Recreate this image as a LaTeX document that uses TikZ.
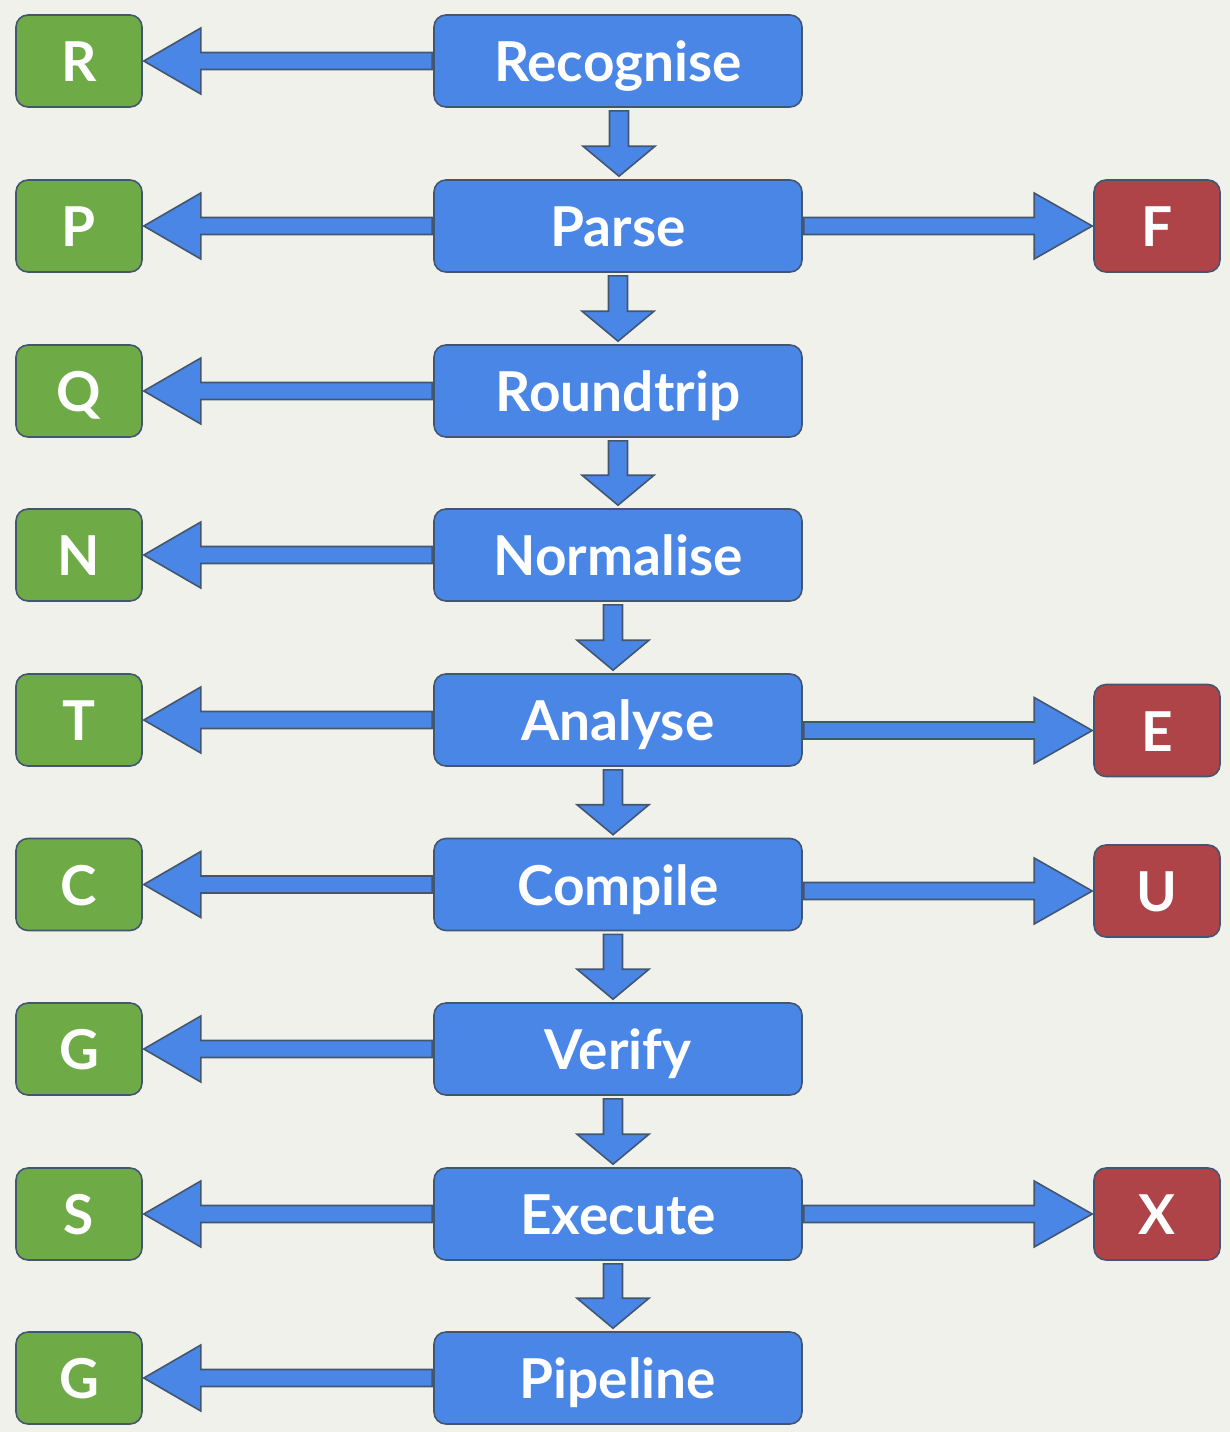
\documentclass[tikz,border=0pt]{standalone}
\usepackage{fontspec}
\setmainfont{Lato}
\usetikzlibrary{calc}
\definecolor{bg}{HTML}{F1F1EC}
\definecolor{bluebox}{HTML}{4A86E6}
\definecolor{greenbox}{HTML}{6EAB46}
\definecolor{redbox}{HTML}{AE4447}
\definecolor{edge}{HTML}{435670}
\tikzset{
  box/.style={draw=edge,line width=1.6pt,rounded corners=12pt,text=white,
    font=\bfseries\fontsize{55}{60}\selectfont,inner sep=0pt,minimum height=92pt,
    text height=41pt,text depth=0pt},
  stage/.style={box,fill=bluebox,minimum width=368pt},
  okbox/.style={box,fill=greenbox,minimum width=126pt},
  errbox/.style={box,fill=redbox,minimum width=126pt},
  fat/.style={draw=edge,fill=bluebox,line width=1.6pt,line join=miter}
}
\newcommand\LeftFat[2]{\draw[fat] let \p1=(#1.west), \p2=(#2.east) in
  (\x1-1pt,\y2+8.5pt) -- (\x2+58pt,\y2+8.5pt) -- (\x2+58pt,\y2+33pt) -- (\x2+1pt,\y2)
  -- (\x2+58pt,\y2-33pt) -- (\x2+58pt,\y2-8.5pt) -- (\x1-1pt,\y2-8.5pt) -- cycle;}
\newcommand\RightFat[2]{\draw[fat] let \p1=(#1.east), \p2=(#2.west) in
  (\x1+1pt,\y2+8.5pt) -- (\x2-59pt,\y2+8.5pt) -- (\x2-59pt,\y2+33pt) -- (\x2-1pt,\y2)
  -- (\x2-59pt,\y2-33pt) -- (\x2-59pt,\y2-8.5pt) -- (\x1+1pt,\y2-8.5pt) -- cycle;}
\newcommand\DownFat[3]{\draw[fat] let \p1=(#1.south), \p2=(#2.north) in
  (#3pt-9.5pt,\y1-3pt) -- (#3pt-9.5pt,\y2+33pt) -- (#3pt-36pt,\y2+33pt) -- (#3pt,\y2+3pt)
  -- (#3pt+36pt,\y2+33pt) -- (#3pt+9.5pt,\y2+33pt) -- (#3pt+9.5pt,\y1-3pt) -- cycle;}
\begin{document}
\begin{tikzpicture}[x=1pt,y=-1pt]
\fill[bg] (0,0) rectangle (1230,1432);
\useasboundingbox (0,0) rectangle (1230,1432);
% stages
\node[stage] (rec) at (618,61) {Recognise};
\node[stage] (par) at (618,226) {Parse};
\node[stage] (rou) at (618,391) {Roundtrip};
\node[stage] (nor) at (618,555) {Normalise};
\node[stage] (ana) at (618,720) {Analyse};
\node[stage] (com) at (618,884.5) {Compile};
\node[stage] (ver) at (618,1049) {Verify};
\node[stage] (exe) at (618,1214) {Execute};
\node[stage] (pip) at (618,1378) {Pipeline};
% ok outcomes
\node[okbox] (r) at (79,61) {R};
\node[okbox] (p) at (79,226) {P};
\node[okbox] (q) at (79,391) {Q};
\node[okbox] (n) at (79,555) {N};
\node[okbox] (t) at (79,720) {T};
\node[okbox] (c) at (79,884.5) {C};
\node[okbox] (g1) at (79,1049) {G};
\node[okbox] (s) at (79,1214) {S};
\node[okbox] (g2) at (79,1378) {G};
% error outcomes
\node[errbox] (f) at (1157,226) {F};
\node[errbox] (e) at (1157,730.5) {E};
\node[errbox] (u) at (1157,891) {U};
\node[errbox] (x) at (1157,1214) {X};
% left arrows
\LeftFat{rec}{r}
\LeftFat{par}{p}
\LeftFat{rou}{q}
\LeftFat{nor}{n}
\LeftFat{ana}{t}
\LeftFat{com}{c}
\LeftFat{ver}{g1}
\LeftFat{exe}{s}
\LeftFat{pip}{g2}
% right arrows
\RightFat{par}{f}
\RightFat{ana}{e}
\RightFat{com}{u}
\RightFat{exe}{x}
% down arrows
\DownFat{rec}{par}{619}
\DownFat{par}{rou}{618}
\DownFat{rou}{nor}{618}
\DownFat{nor}{ana}{613}
\DownFat{ana}{com}{613}
\DownFat{com}{ver}{613}
\DownFat{ver}{exe}{613}
\DownFat{exe}{pip}{613}
\end{tikzpicture}
\end{document}
